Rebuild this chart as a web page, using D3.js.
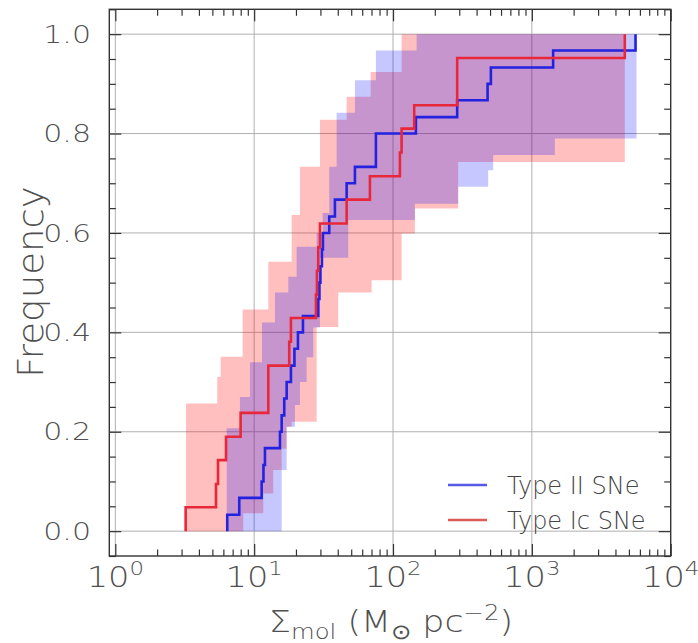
<!DOCTYPE html>
<html>
<head>
<meta charset="utf-8">
<script src="https://cdn.jsdelivr.net/npm/d3@7"></script>
<style>
  body { margin: 0; background: #fff; }
  svg { display: block; }
  text { font-family: "DejaVu Sans", sans-serif; font-weight: 200; fill: #505050; }
</style>
</head>
<body>
<div id="chart"></div>
<script>
// step positions (Sigma_mol) and cumulative frequency after each step
const typeII_x = [6.40, 7.81, 11.32, 11.67, 11.96, 15.34, 15.78, 16.47, 17.14, 18.40, 19.50, 20.67, 22.46,
  28.94, 29.52, 30.01, 30.77, 31.29, 34.73, 38.16, 46.35, 53.18, 75.3, 146.2, 289.9, 479.9, 506.8, 1423, 5580];
const typeII_y = [0.033, 0.067, 0.100, 0.133, 0.167, 0.200, 0.233, 0.267, 0.300, 0.333, 0.367, 0.400, 0.433,
  0.467, 0.500, 0.533, 0.567, 0.600, 0.633, 0.667, 0.700, 0.733, 0.800, 0.833, 0.867, 0.900, 0.933, 0.967, 1.0];

const typeIc_x = [3.21, 5.31, 5.49, 6.27, 7.99, 12.64, 17.89, 18.40, 27.86, 28.33, 28.94, 29.77,
  46.35, 68.19, 112.1, 115.3, 142.1, 289.9, 4672];
const typeIc_y = [0.048, 0.095, 0.143, 0.190, 0.238, 0.333, 0.381, 0.429, 0.476, 0.524, 0.571, 0.619,
  0.667, 0.714, 0.762, 0.810, 0.857, 0.952, 1.0];

// uncertainty bands: upper (left) and lower (right) step edges
const bandII_hiX = [6.34, 7.90, 9.33, 11.38, 14.12, 17.61, 20.23, 28.18, 31.14, 34.73, 39.26, 53.18, 75.3, 147.9];
const bandII_hiY = [0.207, 0.27, 0.34, 0.42, 0.48, 0.512, 0.572, 0.60, 0.64, 0.733, 0.842, 0.907, 0.967, 1.0];
const bandII_loX = [15.78, 17.14, 19.67, 21.37, 23.87, 26.64, 29.77, 47.60, 143.8, 294.7, 484.6, 526.5, 1464, 5674];
const bandII_loY = [0.123, 0.21, 0.254, 0.30, 0.35, 0.41, 0.55, 0.626, 0.659, 0.693, 0.726, 0.757, 0.79, 1.0];

const bandIc_hiX = [3.23, 5.42, 5.74, 8.26, 12.64, 18.62, 21.37, 29.77, 46.35, 69.0, 115.3];
const bandIc_hiY = [0.257, 0.31, 0.351, 0.446, 0.542, 0.636, 0.733, 0.828, 0.874, 0.924, 1.0];
const bandIc_loX = [8.35, 11.63, 13.72, 15.78, 17.14, 18.62, 28.18, 40.32, 70.15, 115.3, 143.8, 294.7, 4672];
const bandIc_loY = [0.036, 0.076, 0.123, 0.166, 0.21, 0.22, 0.411, 0.48, 0.505, 0.599, 0.649, 0.743, 1.0];

const xMajor = [1, 10, 100, 1000, 10000];
const xMajorExp = ["0", "1", "2", "3", "4"];
const yMajor = [0, 0.2, 0.4, 0.6, 0.8, 1.0];
const yLabels = ["0.0", "0.2", "0.4", "0.6", "0.8", "1.0"];

const W = 698, H = 643;
const L = 109.3, R = 670.7, T = 9.3, B = 556;

const svg = d3.select("#chart").append("svg").attr("width", W).attr("height", H);

const x = d3.scaleLog().domain([0.905, 10000]).range([L, R]);
const y = d3.scaleLinear().domain([-0.05, 1.05]).range([B, T]);

// grid
const grid = svg.append("g").attr("stroke", "#b0b0b0").attr("stroke-width", 1);
xMajor.slice(0, 4).forEach(v => grid.append("line").attr("x1", x(v)).attr("x2", x(v)).attr("y1", T).attr("y2", B));
yMajor.forEach(v => grid.append("line").attr("x1", L).attr("x2", R).attr("y1", y(v)).attr("y2", y(v)));

// bands
const lineAfter = d3.line().x(d => x(d[0])).y(d => y(d[1])).curve(d3.curveStepAfter);
const lineBefore = d3.line().x(d => x(d[0])).y(d => y(d[1])).curve(d3.curveStepBefore);
function bandPath(hiX, hiY, loX, loY) {
  const up = [[hiX[0], 0]].concat(hiX.map((v, i) => [v, hiY[i]]));
  const down = [[loX[0], 0]].concat(loX.map((v, i) => [v, loY[i]])).reverse();
  return lineAfter(up) + lineBefore(down).replace(/^M/, "L") + "Z";
}
svg.append("path").attr("d", bandPath(bandIc_hiX, bandIc_hiY, bandIc_loX, bandIc_loY))
  .attr("fill", "rgba(255,0,0,0.25)");
svg.append("path").attr("d", bandPath(bandII_hiX, bandII_hiY, bandII_loX, bandII_loY))
  .attr("fill", "rgba(0,0,255,0.22)");

// ecdf lines
function ecdf(xs, ys) {
  return lineAfter([[xs[0], 0]].concat(xs.map((v, i) => [v, ys[i]])));
}
svg.append("path").attr("d", ecdf(typeII_x, typeII_y)).attr("fill", "none")
  .attr("stroke", "#2222e0").attr("stroke-width", 2.6);
svg.append("path").attr("d", ecdf(typeIc_x, typeIc_y)).attr("fill", "none")
  .attr("stroke", "#e8283a").attr("stroke-width", 2.6);

// ticks (inward, all sides)
const xMinor = [];
[1, 10, 100, 1000].forEach(d => { for (let k = 2; k <= 9; k++) xMinor.push(k * d); });
const yMinor = d3.range(-1, 22).map(i => i * 0.05).filter(v => Math.round(v * 100) % 20 !== 0);

function tickAxis(axis, tr, vals, size) {
  const g = svg.append("g").attr("transform", tr)
    .call(axis.tickValues(vals).tickSize(-size).tickSizeOuter(0).tickFormat(""));
  g.select(".domain").remove();
  g.selectAll("line").attr("stroke", "#333").attr("stroke-width", 1.2);
}
tickAxis(d3.axisBottom(x), `translate(0,${B})`, xMajor, 12);
tickAxis(d3.axisBottom(x), `translate(0,${B})`, xMinor, 6.5);
tickAxis(d3.axisTop(x), `translate(0,${T})`, xMajor, 12);
tickAxis(d3.axisTop(x), `translate(0,${T})`, xMinor, 6.5);
tickAxis(d3.axisLeft(y), `translate(${L},0)`, yMajor, 12);
tickAxis(d3.axisLeft(y), `translate(${L},0)`, yMinor, 6.5);
tickAxis(d3.axisRight(y), `translate(${R},0)`, yMajor, 12);
tickAxis(d3.axisRight(y), `translate(${R},0)`, yMinor, 6.5);

// frame
svg.append("rect").attr("x", L).attr("y", T).attr("width", R - L).attr("height", B - T)
  .attr("fill", "none").attr("stroke", "#333").attr("stroke-width", 1.4);

// tick labels
yMajor.forEach((v, i) => {
  svg.append("text").attr("transform", `translate(91,${y(v) + 8.7}) scale(1.2,1)`)
    .attr("text-anchor", "end").style("font-size", "25px").text(yLabels[i]);
});
xMajor.forEach((v, i) => {
  const t = svg.append("text").attr("transform", `translate(${x(v)},587) scale(1.2,1)`)
    .attr("text-anchor", "middle").style("font-size", "28px");
  t.append("tspan").text("10");
  t.append("tspan").attr("dy", -12).style("font-size", "19px").text(xMajorExp[i]);
});

// axis labels
const xl = svg.append("text").attr("transform", "translate(391,632) scale(1.16,1)")
  .attr("text-anchor", "middle").style("font-size", "30px");
xl.append("tspan").text("Σ");
xl.append("tspan").attr("dy", 7).style("font-size", "21px").text("mol");
xl.append("tspan").attr("dy", -7).text(" (M");
xl.append("tspan").attr("dy", 7).style("font-size", "21px").text("⊙");
xl.append("tspan").attr("dy", -7).text(" pc");
xl.append("tspan").attr("dy", -12).style("font-size", "21px").text("−2");
xl.append("tspan").attr("dy", 12).text(")");

svg.append("text").attr("transform", "translate(42.5,282) rotate(-90) scale(1.06,1)")
  .attr("text-anchor", "middle").style("font-size", "35px").text("Frequency");

// legend
const legend = [["Type II SNe", "#5858e6", 485], ["Type Ic SNe", "#dc5a5a", 520]];
legend.forEach(d => {
  svg.append("line").attr("x1", 448).attr("x2", 487).attr("y1", d[2]).attr("y2", d[2])
    .attr("stroke", d[1]).attr("stroke-width", 2.6);
  svg.append("text").attr("x", 507).attr("y", d[2] + 8.5).style("font-size", "24px")
    .style("fill", "#444").text(d[0]);
});
</script>
</body>
</html>
